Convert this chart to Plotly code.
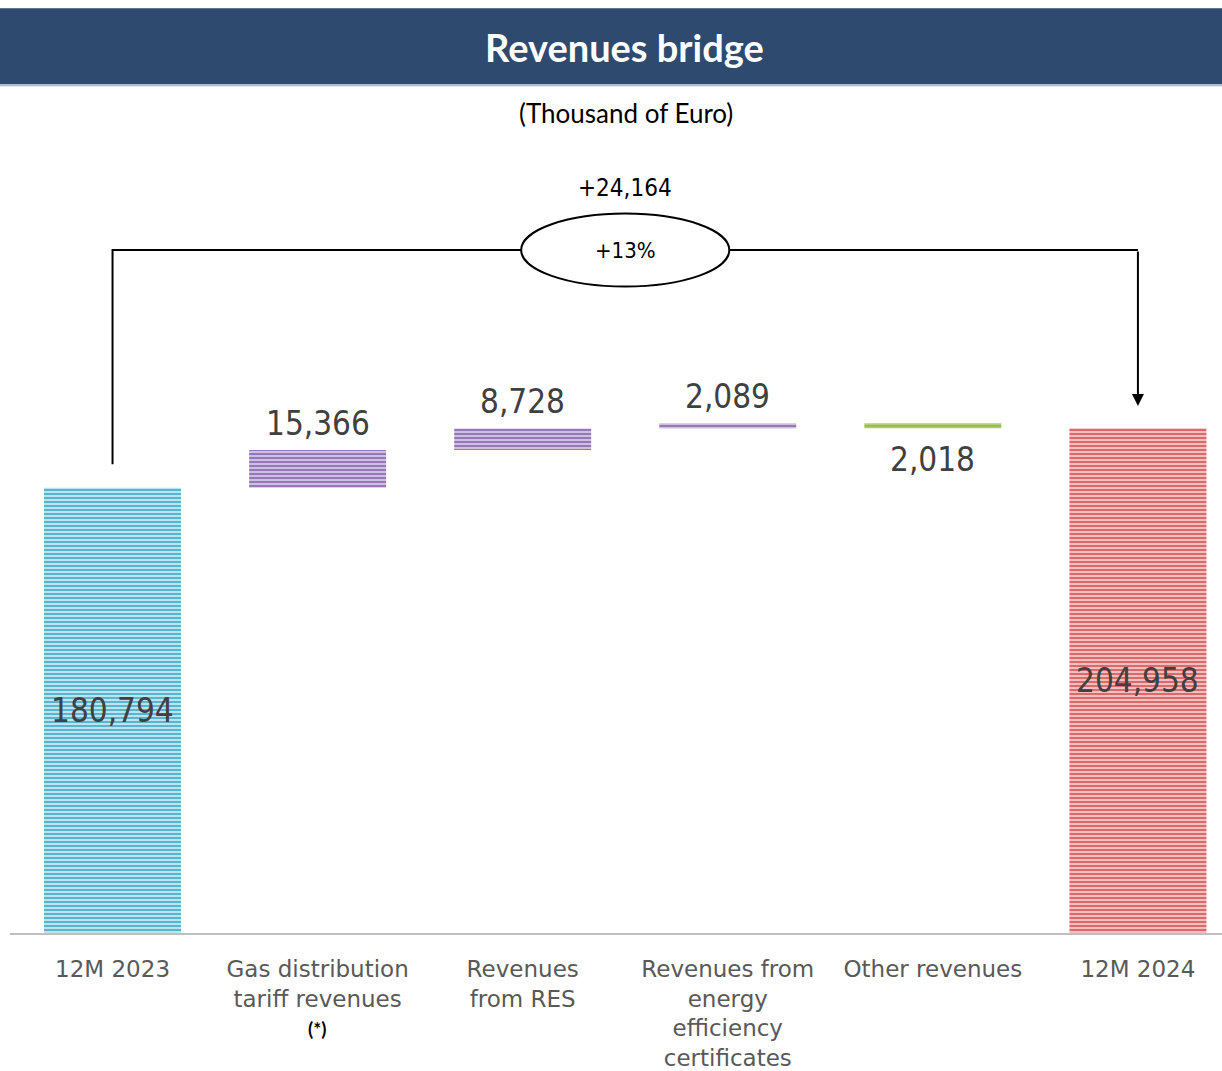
import plotly.graph_objects as go

# ---- data -------------------------------------------------------------
categories = [
    "12M 2023",
    "Gas distribution<br>tariff revenues",
    "Revenues<br>from RES",
    "Revenues from<br>energy<br>efficiency<br>certificates",
    "Other revenues",
    "12M 2024",
]
values = [180794, 15366, 8728, 2089, -2018, 204958]
kinds = ["total", "delta", "delta", "delta", "delta", "total"]
value_labels = ["180,794", "15,366", "8,728", "2,089", "2,018", "204,958"]
change_label = "+24,164"
change_pct_label = "+13%"

# ---- styling ------------------------------------------------------------
W, H = 1222, 1071
M_L, M_R, M_T, M_B = 10, 0, 140, 136
PLOT_W = W - M_L - M_R
PLOT_H = H - M_T - M_B
Y_MAX = 322000

FONT = "DejaVu Sans Condensed, DejaVu Sans, sans-serif"
TICK_FONT = "DejaVu Sans, sans-serif"
TITLE_FONT = "Lato, Open Sans, sans-serif"

fg = ["#5AB4CF", "#9478B8", "#9478B8", "#9478B8", "#9BBB59", "#D9696B"]
bg = ["#BDE3EE", "#CFC0E0", "#CFC0E0", "#CFC0E0", "#B2CF78", "#F2BFBF"]


def px_x(px):
    return (px - M_L) / PLOT_W


def px_y(px):
    return (H - M_B - px) / PLOT_H


# ---- waterfall geometry ------------------------------------------------
bases, heights = [], []
running = 0
for v, k in zip(values, kinds):
    if k == "total":
        bases.append(0)
        heights.append(v)
        running = v
    else:
        if v >= 0:
            bases.append(running)
            heights.append(v)
        else:
            bases.append(running + v)
            heights.append(-v)
        running += v

xs = list(range(len(categories)))

fig = go.Figure()
# one trace per bar so every bar gets its own striped fill
for i in xs:
    fig.add_trace(
        go.Bar(
            x=[i],
            y=[heights[i]],
            base=[bases[i]],
            width=0.668,
            marker=dict(
                color=bg[i],
                line=dict(width=0),
                pattern=dict(shape="-", fgcolor=fg[i], bgcolor=bg[i], size=4,
                             solidity=0.5, fillmode="replace", fgopacity=1),
            ),
            hoverinfo="skip",
        )
    )

annotations = []
for i, (v, k, b, h) in enumerate(zip(values, kinds, bases, heights)):
    if k == "total":
        annotations.append(dict(x=i, y=b + h / 2, text=value_labels[i], showarrow=False,
                                font=dict(family=FONT, size=33, color="#404040"),
                                yanchor="middle"))
    elif v >= 0:
        annotations.append(dict(x=i, y=b + h, text=value_labels[i], showarrow=False,
                                font=dict(family=FONT, size=33, color="#404040"),
                                yanchor="bottom", yshift=5))
    else:
        annotations.append(dict(x=i, y=b, text=value_labels[i], showarrow=False,
                                font=dict(family=FONT, size=33, color="#404040"),
                                yanchor="top", yshift=-10))

# bridge connector: from first total up, across, and down onto the last total
start_total = values[0]
end_total = values[-1]
bridge_level = end_total * 1.353
start_top = start_total + 9500
end_tip = end_total + 9000
ell_w, ell_h = 1.015, 29600

shapes = [
    # header banner
    dict(type="rect", xref="paper", yref="paper", x0=px_x(0), x1=px_x(W),
         y0=px_y(84), y1=px_y(8), fillcolor="#2E4A6E", line=dict(width=0), layer="above"),
    dict(type="line", xref="paper", yref="paper", x0=px_x(0), x1=px_x(W),
         y0=px_y(85), y1=px_y(85), line=dict(color="#A9B8CC", width=2)),
    # connector path
    dict(type="path", xref="x", yref="y",
         path=f"M 0 {start_top} L 0 {bridge_level} L 5 {bridge_level}",
         line=dict(color="black", width=2)),
    dict(type="circle", xref="x", yref="y",
         x0=2.5 - ell_w / 2, x1=2.5 + ell_w / 2,
         y0=bridge_level - ell_h / 2, y1=bridge_level + ell_h / 2,
         fillcolor="white", line=dict(color="black", width=2)),
]

annotations += [
    dict(x=5, y=end_tip, ax=5, ay=bridge_level, xref="x", yref="y", axref="x", ayref="y",
         text="", showarrow=True, arrowhead=2, arrowsize=1.2, arrowwidth=2, arrowcolor="black"),
    dict(x=2.5, y=bridge_level, text=change_pct_label, showarrow=False,
         font=dict(family=FONT, size=22, color="black"), yanchor="middle"),
    dict(x=2.5, y=bridge_level + ell_h / 2, text=change_label, showarrow=False,
         font=dict(family=FONT, size=24, color="black"), yanchor="bottom", yshift=10),
    dict(xref="paper", yref="paper", x=px_x(624), y=px_y(47), text="<b>Revenues bridge</b>",
         showarrow=False, font=dict(family=TITLE_FONT, size=38, color="white"),
         yanchor="middle"),
    dict(xref="paper", yref="paper", x=px_x(626), y=px_y(113), text="(Thousand of Euro)",
         showarrow=False, font=dict(family=TITLE_FONT, size=26, color="black"),
         yanchor="middle"),
    dict(xref="x", yref="paper", x=1, y=px_y(1031), text="<b>(*)</b>",
         showarrow=False, font=dict(family=TITLE_FONT, size=19, color="black"),
         yanchor="middle"),
]

fig.update_layout(
    width=W,
    height=H,
    margin=dict(l=M_L, r=M_R, t=M_T, b=M_B, pad=0),
    paper_bgcolor="white",
    plot_bgcolor="white",
    showlegend=False,
    barmode="overlay",
    shapes=shapes,
    annotations=annotations,
    xaxis=dict(
        range=[-0.5, 5.41],
        tickmode="array",
        tickvals=xs,
        ticktext=categories,
        tickfont=dict(family=TICK_FONT, size=23, color="#595959"),
        showgrid=False,
        zeroline=False,
        showline=True,
        linecolor="#BFBFBF",
        linewidth=2,
        ticks="outside",
        ticklen=14,
        tickcolor="rgba(0,0,0,0)",
    ),
    yaxis=dict(range=[0, Y_MAX], visible=False, showgrid=False, zeroline=False),
)

fig.write_html("out.html")
